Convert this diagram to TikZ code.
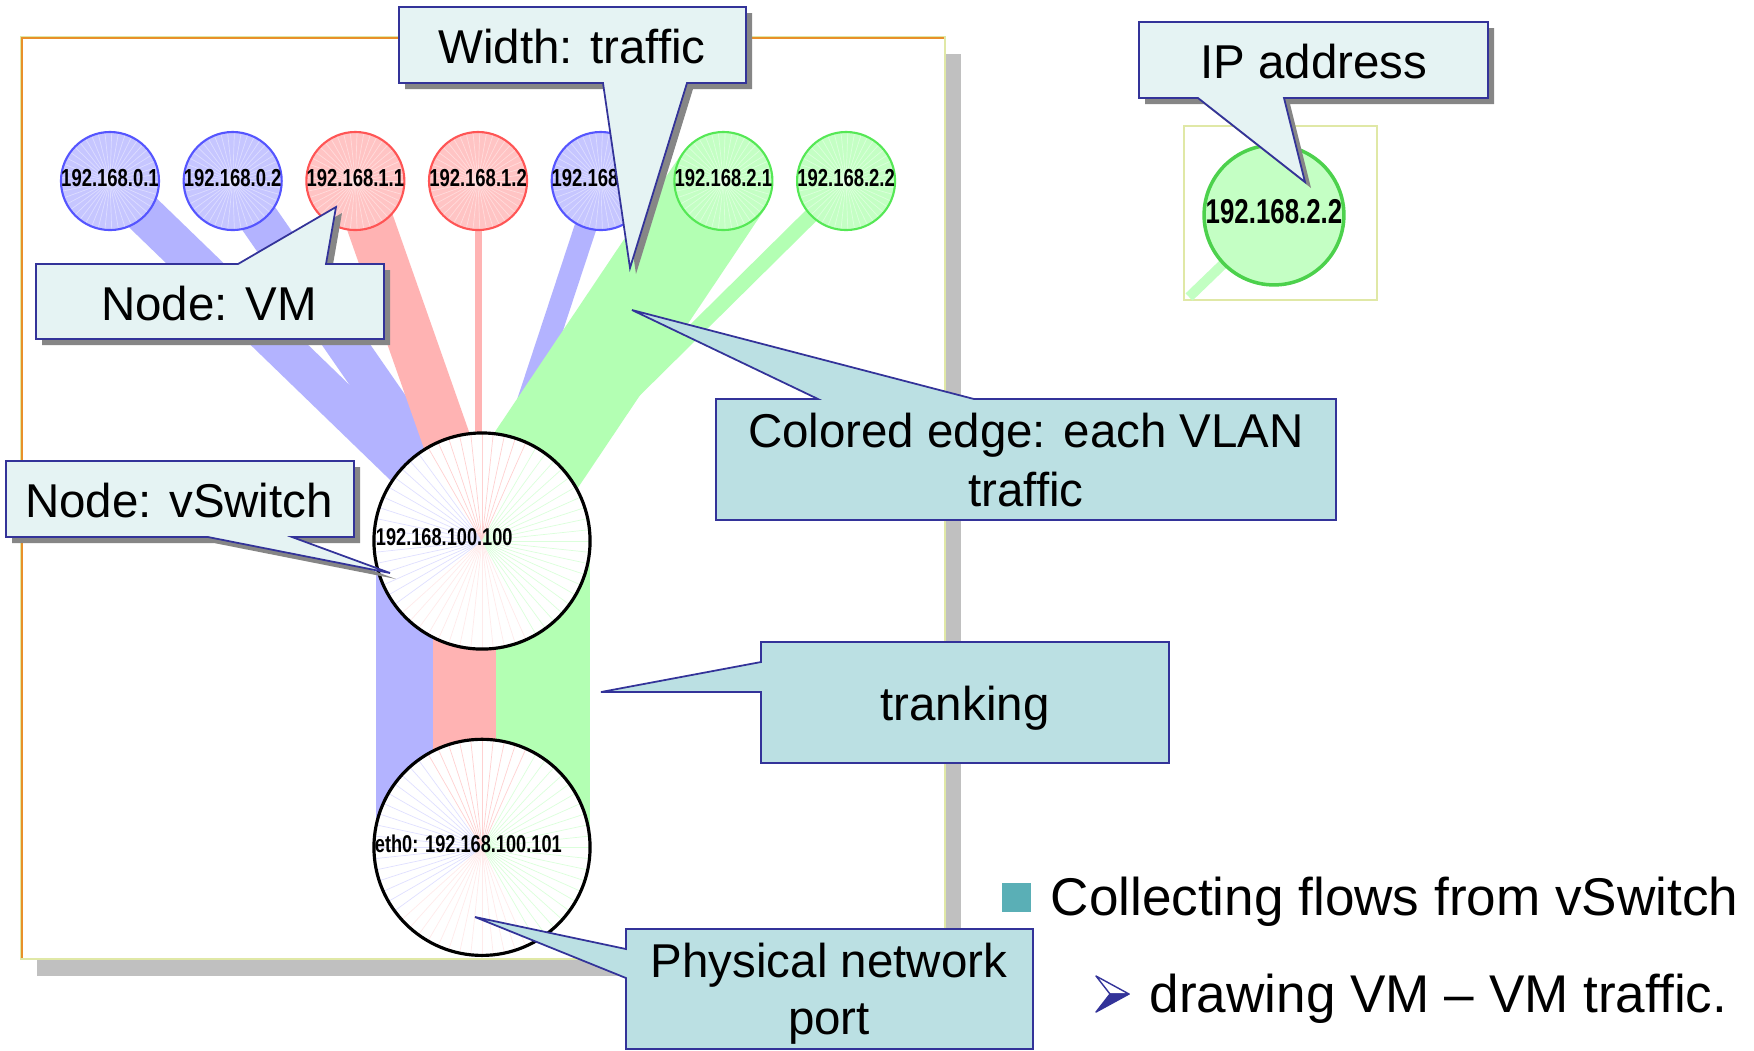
\documentclass[tikz,border=0pt]{standalone}
\usepackage{fontspec}
\setmainfont{Liberation Sans}
\newfontfamily\ipfont{Liberation Sans}[FakeStretch=0.75]
\usetikzlibrary{positioning,backgrounds}

\definecolor{vmblue}{HTML}{C6C6FF}
\definecolor{vmblueline}{HTML}{5555FF}
\definecolor{vmred}{HTML}{FFC4C4}
\definecolor{vmredline}{HTML}{FF5555}
\definecolor{vmgreen}{HTML}{C4FFC4}
\definecolor{vmgreenline}{HTML}{55E855}
\definecolor{bandblue}{HTML}{B3B3FF}
\definecolor{bandred}{HTML}{FFB3B3}
\definecolor{bandgreen}{HTML}{B3FFB3}
\definecolor{calllight}{HTML}{E5F3F3}
\definecolor{callteal}{HTML}{BBE0E3}
\definecolor{callborder}{HTML}{333399}
\definecolor{shadowgrey}{HTML}{868686}
\definecolor{framegrey}{HTML}{C0C0C0}
\definecolor{frameline}{HTML}{E0E8A6}
\definecolor{frameorange}{HTML}{E8902A}
\definecolor{bulletteal}{HTML}{5AAFB6}

\tikzset{
  vm/.style={circle, minimum size=0.98cm, inner sep=0pt, line width=0.6pt,
    font=\ipfont\bfseries\fontsize{7}{8}\selectfont,
    path picture={\foreach \a in {0,8,...,352}
      \draw[white, opacity=0.4, line width=0.2pt] (path picture bounding box.center) -- ++(\a:0.6cm);}},
  vmb/.style={fill=vmblue, draw=vmblueline},
  vmr/.style={fill=vmred, draw=vmredline},
  vmg/.style={fill=vmgreen, draw=vmgreenline},
  hub/.style={circle, minimum size=2.16cm, inner sep=0pt, fill=white, draw=black, line width=0.9pt,
    font=\ipfont\bfseries\fontsize{6.9}{8}\selectfont,
    path picture={
      \foreach \a in {126,132,...,216}
        \draw[blue!12, line width=0.2pt] (path picture bounding box.center) -- ++(\a:1.2cm);
      \foreach \a in {66,72,...,120}
        \draw[red!18, line width=0.2pt] (path picture bounding box.center) -- ++(\a:1.2cm);
      \foreach \a in {-60,-54,...,60}
        \draw[green!14, line width=0.2pt] (path picture bounding box.center) -- ++(\a:1.2cm);
      \foreach \a in {222,228,...,294}
        \draw[red!8, line width=0.2pt] (path picture bounding box.center) -- ++(\a:1.2cm);}},
  lightcall/.style={fill=calllight, draw=callborder, line width=0.5pt,
    preaction={fill=shadowgrey, transform canvas={shift={(6,6)}}}},
  tealcall/.style={fill=callteal, draw=callborder, line width=0.5pt},
  calltext/.style={font=\fontsize{13.5}{16.8}\selectfont, align=center, inner sep=0pt},
  bullettext/.style={font=\fontsize{15.1}{18}\selectfont, inner sep=0pt},
}

\begin{document}
\begin{tikzpicture}[x=0.01cm, y=-0.01cm]
  \useasboundingbox (0,0) rectangle (1754,1050);

  % VMs
  \node[vm, vmb] (VA) at (110,181) {\makebox[0pt]{\raisebox{0.06cm}{192.168.0.1}}};
  \node[vm, vmb, right=0.225cm of VA] (VB) {\makebox[0pt]{\raisebox{0.06cm}{192.168.0.2}}};
  \node[vm, vmr, right=0.225cm of VB] (VC) {\makebox[0pt]{\raisebox{0.06cm}{192.168.1.1}}};
  \node[vm, vmr, right=0.225cm of VC] (VD) {\makebox[0pt]{\raisebox{0.06cm}{192.168.1.2}}};
  \node[vm, vmb, right=0.225cm of VD] (VE) {\makebox[0pt][l]{\hspace*{-0.49cm}\raisebox{0.06cm}{192.168}}};
  \node[vm, vmg, right=0.225cm of VE] (VF) {\makebox[0pt]{\raisebox{0.06cm}{192.168.2.1}}};
  \node[vm, vmg, right=0.225cm of VF] (VG) {\makebox[0pt]{\raisebox{0.06cm}{192.168.2.2}}};

  % vSwitch and port
  \node[hub] (SW) at (482,541) {\makebox[0pt][l]{\hspace*{-1.06cm}\raisebox{0.07cm}{192.168.100.100}}};
  \node[hub, below=0.87cm of SW] (PP) {\makebox[0pt][l]{\hspace*{-1.07cm}\raisebox{0.07cm}{eth0: 192.168.100.101}}};

  % zoomed node
  \node[circle, minimum size=1.38cm, inner sep=0pt, fill=vmgreen, draw=vmgreenline!90!black, line width=1pt,
    font=\ipfont\bfseries\fontsize{9.8}{11}\selectfont] (IP) at (1274,215) {\raisebox{0.08cm}{192.168.2.2}};

  \begin{scope}[on background layer]
    \fill[framegrey] (37,54) rectangle (961,976);
    \filldraw[fill=white, draw=frameline, line width=0.5pt] (21,37) rectangle (945,959);
    \draw[frameorange, line width=0.3pt] (22,958) -- (22,38) -- (944,38);
    % trunk
    \draw[bandblue, line width=0.57cm] ([xshift=-0.775cm]SW.center) -- ([xshift=-0.775cm]PP.center);
    \draw[bandred, line width=0.63cm] ([xshift=-0.175cm]SW.center) -- ([xshift=-0.175cm]PP.center);
    \draw[bandgreen, line width=0.94cm] ([xshift=0.61cm]SW.center) -- ([xshift=0.61cm]PP.center);
    % flows
    \draw[bandblue, line width=0.40cm] (VA.center) -- (SW.center);
    \draw[bandblue, line width=0.40cm] (VB.center) -- (SW.center);
    \draw[bandblue, line width=0.22cm] (VE.center) -- (SW.center);
    \draw[bandred, line width=0.48cm] (VC.center) -- (SW.center);
    \draw[bandred, line width=0.07cm] (VD.center) -- (VD.center |- SW.center);
    \draw[bandgreen, line width=1.0cm] (VF.center) -- (SW.center);
    \draw[bandgreen, line width=0.15cm] (VG.center) -- (SW.center);
    % zoom box
    \filldraw[fill=white, draw=frameline, line width=0.6pt] (1184,126) rectangle (1377,300);
    \draw[bandgreen!80!white, line width=0.1cm] (IP.center) -- (1189,297);
  \end{scope}

  % callouts
  \path[lightcall] (399,7) -- (746,7) -- (746,83) -- (687,83) -- (630,268) -- (603,83) -- (399,83) -- cycle;
  \node[calltext, anchor=base] (WT) at (572,63) {Width: traffic};

  \path[lightcall] (36,264) -- (238,264) -- (336,207) -- (326,264) -- (384,264) -- (384,339) -- (36,339) -- cycle;
  \node[calltext, anchor=base] (NV) at (209,320) {Node: VM};

  \path[lightcall] (6,461) -- (354,461) -- (354,537) -- (292,537) -- (390,573) -- (208,537) -- (6,537) -- cycle;
  \node[calltext, anchor=base] (NS) at (179,517) {Node: vSwitch};

  \path[tealcall] (716,399) -- (818,399) -- (632,310) -- (974,399) -- (1336,399) -- (1336,520) -- (716,520) -- cycle;
  \node[calltext] (CE) at (1026,460) {Colored edge: each VLAN\\traffic};

  \path[tealcall] (761,642) -- (1169,642) -- (1169,763) -- (761,763) -- (761,692) -- (601,692) -- (761,662) -- cycle;
  \node[calltext, anchor=base] (TR) at (965,720) {tranking};

  \path[tealcall] (626,929) -- (1033,929) -- (1033,1049) -- (626,1049) -- (626,978) -- (475,917) -- (626,949) -- cycle;
  \node[calltext, font=\fontsize{13.5}{16.2}\selectfont] (PN) at (829,994) {Physical network\\port};

  \path[lightcall] (1139,22) -- (1488,22) -- (1488,98) -- (1284,98) -- (1305,182) -- (1198,98) -- (1139,98) -- cycle;
  \node[calltext, anchor=base] (IA) at (1314,78) {IP address};

  % bullets
  \node[fill=bulletteal, minimum size=0.29cm, inner sep=0pt] (SQ) at (1016,897) {};
  \node[bullettext, anchor=base west] (BA) at (1050,915) {Collecting flows from vSwitch};
  \filldraw[fill=white, draw=callborder, line width=0.4pt, line join=round] (1096,976) -- (1129,994) -- (1110,994) -- cycle;
  \filldraw[fill=callborder, draw=callborder, line width=0.4pt, line join=round] (1110,994) -- (1129,994) -- (1096,1012) -- cycle;
  \node[bullettext, anchor=base west] (BB) at (1149,1012) {drawing VM \textendash{} VM traffic.};
\end{tikzpicture}
\end{document}
